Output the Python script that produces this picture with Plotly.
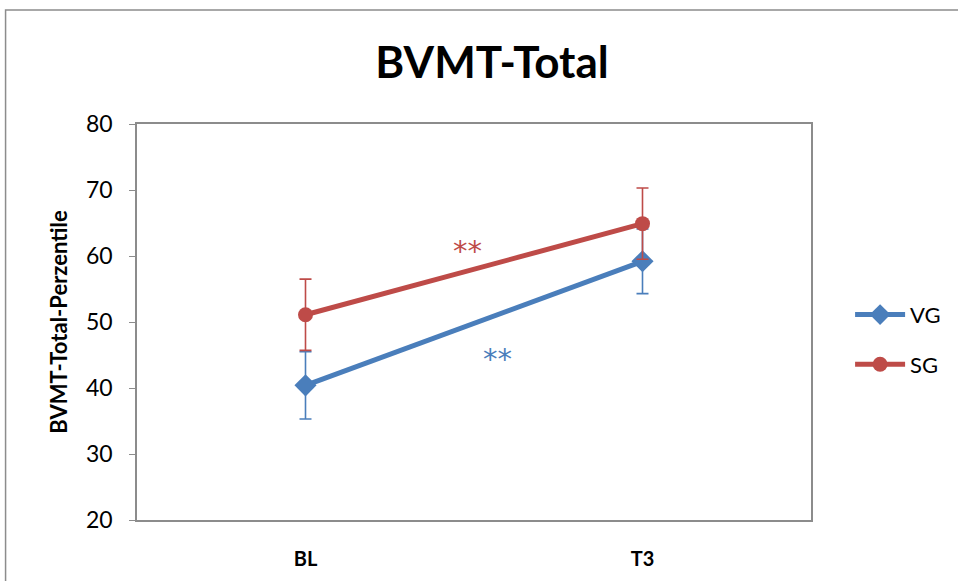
import plotly.graph_objects as go

categories = ["BL", "T3"]
vg_values = [40.4, 59.2]
vg_err = [5.1, 4.9]
sg_values = [51.1, 64.9]
sg_err = [5.4, 5.4]
y_ticks = [20, 30, 40, 50, 60, 70, 80]

BLUE = "#4a7ebb"
RED = "#be4b48"
FONT = "Lato, 'Open Sans', sans-serif"
STAR_FONT = "'DejaVu Sans', sans-serif"

fig = go.Figure()
fig.add_trace(go.Scatter(
    x=categories, y=vg_values, name="VG", mode="lines+markers", legendgroup="vg",
    line=dict(color=BLUE, width=5),
    marker=dict(symbol="diamond", size=17, color=BLUE),
    error_y=dict(type="data", array=vg_err, visible=True, color=BLUE, thickness=1.6, width=6),
))
fig.add_trace(go.Scatter(
    x=categories, y=sg_values, name="SG", mode="lines+markers", legendgroup="sg",
    line=dict(color=RED, width=5),
    marker=dict(symbol="circle", size=15, color=RED),
    error_y=dict(type="data", array=sg_err, visible=True, color=RED, thickness=1.6, width=6),
))

fig.add_annotation(x=0.48, y=61.7, xref="x", yref="y", text="**", showarrow=False, yshift=-6,
                   font=dict(size=29, color=RED, family=STAR_FONT))
fig.add_annotation(x=0.57, y=45.3, xref="x", yref="y", text="**", showarrow=False, yshift=-6,
                   font=dict(size=29, color=BLUE, family=STAR_FONT))

fig.add_shape(type="rect", xref="paper", yref="paper", x0=-0.195, x1=1.3, y0=-0.3, y1=1.288,
              line=dict(color="#8c8c8c", width=1.5), fillcolor="rgba(0,0,0,0)", layer="below")

fig.update_layout(
    width=958, height=581,
    margin=dict(l=137, r=144, t=124, b=61),
    paper_bgcolor="white", plot_bgcolor="white",
    title=dict(text="<b>BVMT-Total</b>", x=492/958, xref="container", xanchor="center",
               y=1 - 63/581, yref="container", yanchor="middle",
               font=dict(family=FONT, size=44, color="black")),
    font=dict(family=FONT, color="black"),
    showlegend=True,
    legend=dict(x=1.058, y=0.455, xanchor="left", yanchor="middle",
                font=dict(size=22, family=FONT, color="black"),
                tracegroupgap=18, itemwidth=50, bgcolor="rgba(0,0,0,0)"),
    xaxis=dict(type="category", range=[-0.5, 1.5], showgrid=False,
               showline=True, linecolor="#8c8c8c", linewidth=1.5, mirror=True,
               ticks="", tickfont=dict(size=20, family=FONT, color="black"),
               tickprefix="<b>", ticksuffix="</b>", ticklabelstandoff=20),
    yaxis=dict(range=[20, 80], tickvals=y_ticks, showgrid=False, zeroline=False,
               showline=True, linecolor="#8c8c8c", linewidth=1.5, mirror=True,
               ticks="outside", ticklen=6, tickcolor="#8c8c8c",
               tickfont=dict(size=23, family=FONT, color="black"),
               ticklabelstandoff=12,
               title=dict(text="<b>BVMT-Total-Perzentile</b>", font=dict(size=22, family=FONT, color="black"),
                          standoff=12)),
)

fig.write_html("out.html")
